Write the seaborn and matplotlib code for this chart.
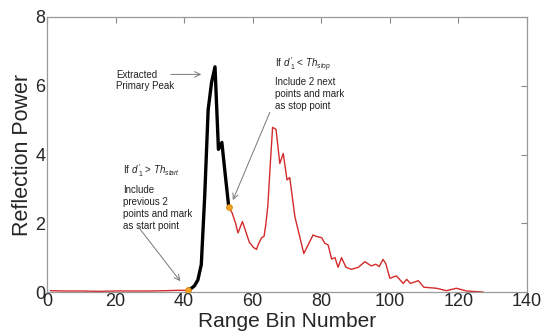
import numpy as np
import pandas as pd
import matplotlib
matplotlib.use('Agg')
import matplotlib.pyplot as plt
import seaborn as sns

# Baseline before the peak (red)
base_x = [1, 5, 10, 15, 20, 25, 30, 35, 38, 41]
base_y = [0.04, 0.03, 0.03, 0.02, 0.03, 0.03, 0.03, 0.04, 0.05, 0.05]

# Extracted primary peak (black)
peak_x = [41, 42, 43, 44, 45, 46, 47, 48, 49, 50, 51, 52, 53]
peak_y = [0.05, 0.1, 0.18, 0.35, 0.8, 2.8, 5.3, 6.1, 6.55, 4.15, 4.35, 3.4, 2.48]

# Rest of the profile (red)
tail_x = [53, 54, 55, 55.7, 57, 58, 59, 60.2, 61.1, 61.6, 62.6, 63.3, 63.8, 64.4,
          65.2, 65.8, 66.8, 67.9, 68.9, 70, 70.8, 72.3, 74.9, 77.6, 78.5, 80.1,
          81, 82, 83, 84, 84.9, 85.9, 87.2, 88.8, 90.8, 92.7, 94.6, 95.9, 96.9,
          98, 98.8, 100, 101.9, 103.9, 104.9, 106, 108.3, 109.9, 113.6, 116.5,
          119.4, 122.4, 127.2]
tail_y = [2.48, 2.3, 2.0, 1.72, 2.05, 1.75, 1.45, 1.3, 1.24, 1.38, 1.58, 1.62,
          1.95, 2.5, 3.84, 4.79, 4.73, 3.74, 4.03, 3.26, 3.33, 2.19, 1.12, 1.66,
          1.62, 1.58, 1.42, 1.37, 0.96, 1.0, 0.72, 1.0, 0.72, 0.66, 0.72, 0.88,
          0.76, 0.81, 0.74, 0.95, 0.83, 0.4, 0.47, 0.25, 0.37, 0.25, 0.33, 0.14,
          0.11, 0.04, 0.11, 0.03, 0.0]

# start / stop points
mark_x = [41, 53]
mark_y = [0.05, 2.48]

sns.set_style('white')
plt.rcParams['font.family'] = ['Liberation Sans', 'DejaVu Sans']
plt.rcParams['mathtext.fontset'] = 'custom'
plt.rcParams['mathtext.rm'] = 'Liberation Sans'
plt.rcParams['mathtext.it'] = 'Liberation Sans:italic'

fig = plt.figure(figsize=(5.53, 3.33), dpi=100)
ax = fig.add_axes([0.085, 0.123, 0.868, 0.826])

red = '#d42a2a'
sns.lineplot(x=base_x, y=base_y, ax=ax, color=red, lw=1.0, estimator=None)
sns.lineplot(x=tail_x, y=tail_y, ax=ax, color=red, lw=1.0, estimator=None)
sns.lineplot(x=peak_x, y=peak_y, ax=ax, color='black', lw=2.4, estimator=None)
sns.scatterplot(x=mark_x, y=mark_y, ax=ax, color='#f0a020', marker='o', s=18,
                edgecolor='#d08000', linewidth=0.5, zorder=5)

ax.set_xlim(0, 140)
ax.set_ylim(0, 8)
ax.set_xticks(range(0, 141, 20))
ax.set_yticks(range(0, 9, 2))
ax.tick_params(direction='in', length=4, width=0.8, color='#888888',
               top=True, right=True, labelsize=13, pad=1)
for s in ax.spines.values():
    s.set_color('#999999')
    s.set_linewidth(0.9)
ax.set_xlabel('Range Bin Number', fontsize=15, labelpad=1)
ax.set_ylabel('Reflection Power', fontsize=15.5, labelpad=2)

fs = 7
txt = '#222222'
arrow = dict(arrowstyle='->', color='#777777', lw=0.7)

ax.text(20.1, 6.15, 'Extracted\nPrimary Peak', fontsize=fs, ha='left',
        va='center', color=txt, linespacing=1.2)
ax.annotate('', xy=(45.8, 6.33), xytext=(35.3, 6.33), arrowprops=arrow)

ax.text(66.5, 6.62, r'If $d\,^{\prime}_{1}$ < $Th_{stop}$', fontsize=fs,
        ha='left', va='center', color=txt)
ax.text(66.5, 6.25, 'Include 2 next\npoints and mark\nas stop point',
        fontsize=fs, ha='left', va='top', color=txt, linespacing=1.25)
ax.annotate('', xy=(53.9, 2.6), xytext=(65.3, 5.3), arrowprops=arrow)

ax.text(22.1, 3.52, r'If $d\,^{\prime}_{1}$ > $Th_{start}$', fontsize=fs,
        ha='left', va='center', color=txt)
ax.text(22.1, 3.1, 'Include\nprevious 2\npoints and mark\nas start point',
        fontsize=fs, ha='left', va='top', color=txt, linespacing=1.25)
ax.annotate('', xy=(39.4, 0.25), xytext=(26.2, 1.95), arrowprops=arrow)

fig.savefig('out.png', dpi=100)
